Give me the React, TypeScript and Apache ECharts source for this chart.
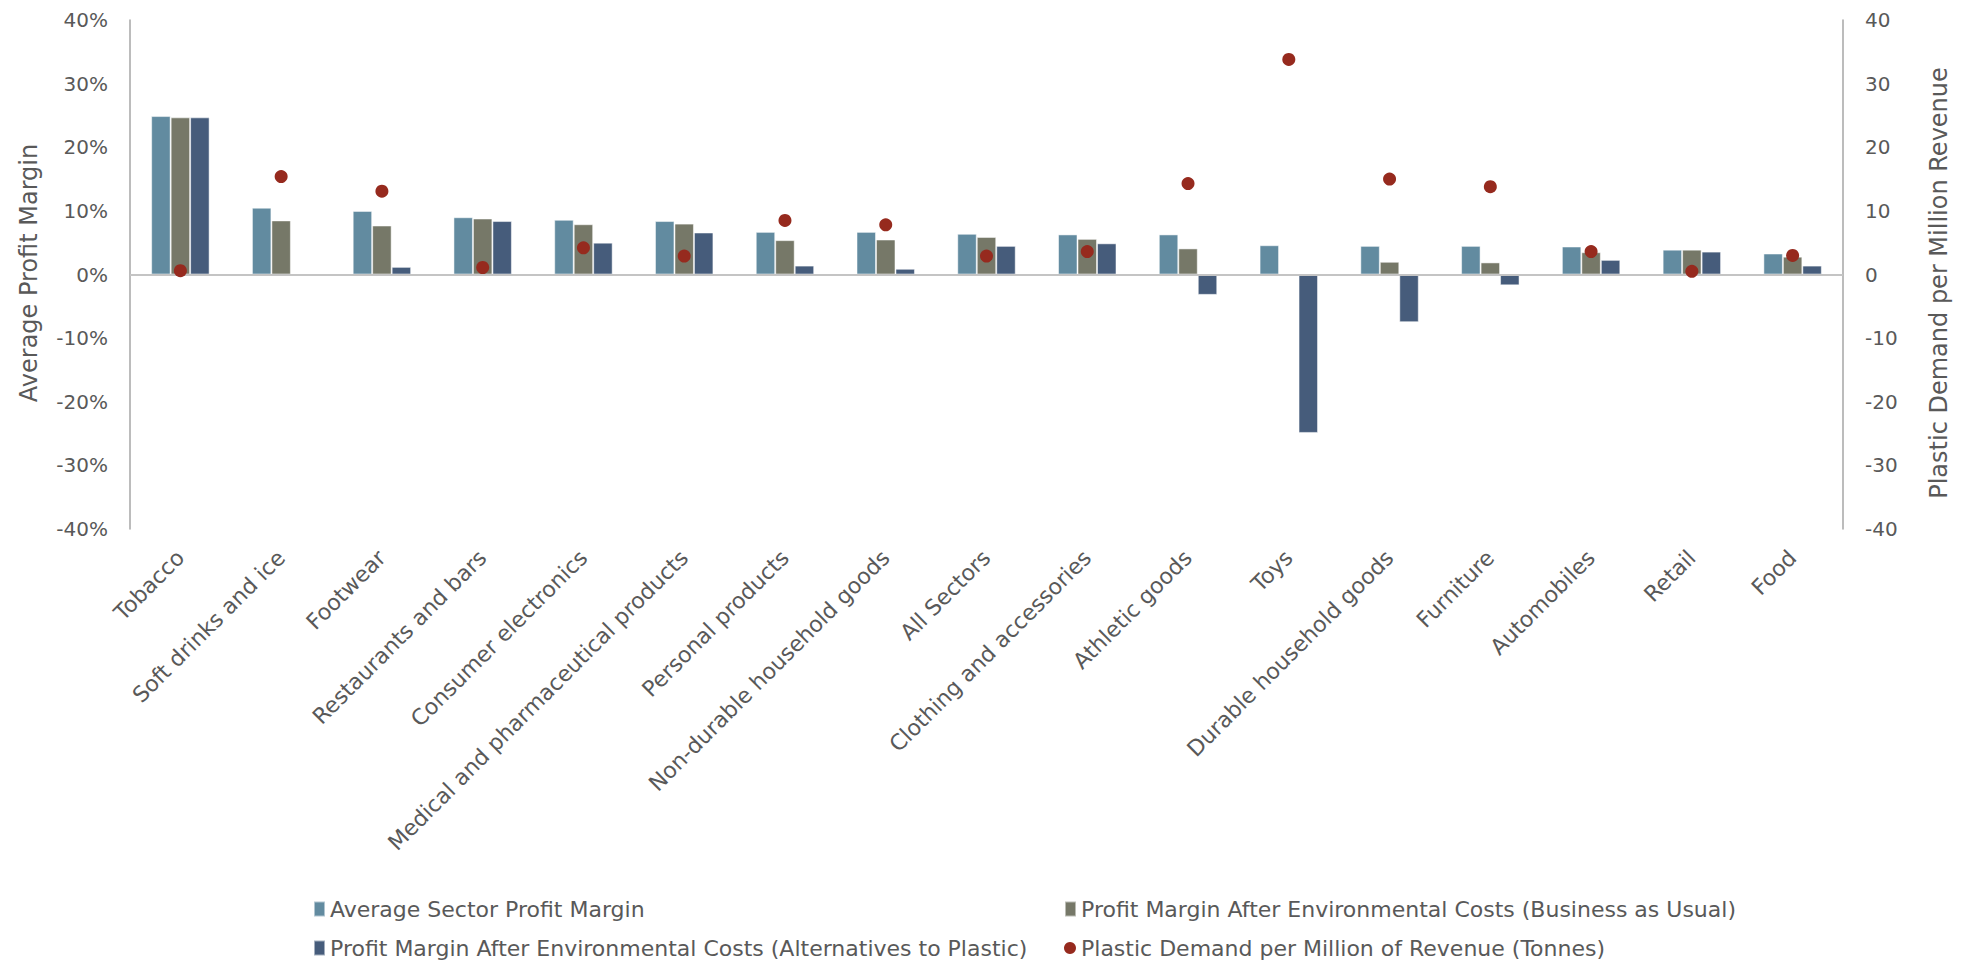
import React, { useEffect, useRef } from "react";
import * as echarts from "echarts";

const categories = [
  "Tobacco",
  "Soft drinks and ice",
  "Footwear",
  "Restaurants and bars",
  "Consumer electronics",
  "Medical and pharmaceutical products",
  "Personal products",
  "Non-durable household goods",
  "All Sectors",
  "Clothing and accessories",
  "Athletic goods",
  "Toys",
  "Durable household goods",
  "Furniture",
  "Automobiles",
  "Retail",
  "Food",
];

const avgMargin = [24.9, 10.5, 10.0, 9.0, 8.6, 8.4, 6.7, 6.7, 6.4, 6.3, 6.3, 4.6, 4.5, 4.5, 4.4, 3.9, 3.3];
const bauMargin = [24.7, 8.5, 7.7, 8.8, 7.9, 8.0, 5.4, 5.5, 5.9, 5.6, 4.1, 0, 2.0, 1.9, 3.5, 3.9, 2.8];
const altMargin = [24.7, -0.15, 1.2, 8.4, 5.0, 6.6, 1.4, 0.9, 4.5, 4.9, -3.2, -24.9, -7.5, -1.7, 2.3, 3.6, 1.4];
const plasticDemand = [0.6, 15.4, 13.1, 1.1, 4.2, 2.9, 8.5, 7.8, 2.9, 3.6, 14.3, 33.8, 15.0, 13.8, 3.6, 0.5, 3.0];

const seriesNames = [
  "Average Sector Profit Margin",
  "Profit Margin After Environmental Costs (Business as Usual)",
  "Profit Margin After Environmental Costs (Alternatives to Plastic)",
  "Plastic Demand per Million of Revenue (Tonnes)",
];

const leftAxisName = "Average Profit Margin";
const rightAxisName = "Plastic Demand per Million Revenue";

const colors = ["#628BA0", "#767868", "#465C7B", "#962A1E"];
const textColor = "#595959";
const font = "DejaVu Sans, sans-serif";

export default function App() {
  const ref = useRef<HTMLDivElement>(null);

  useEffect(() => {
    if (!ref.current) return;
    const chart = echarts.init(ref.current, undefined, { renderer: "svg" });

    const legendPos = [
      { left: 313, top: 898 },
      { left: 1064, top: 898 },
      { left: 313, top: 937 },
      { left: 1064, top: 937 },
    ];

    const legends = seriesNames.map((n, i) => ({
      show: true,
      data: [n],
      left: legendPos[i].left,
      top: legendPos[i].top,
      orient: "horizontal",
      itemWidth: i === 3 ? 12 : 11,
      itemHeight: i === 3 ? 12 : 15,
      icon: i === 3 ? "circle" : "rect",
      selectedMode: false,
      textStyle: { color: textColor, fontSize: 22, fontFamily: font },
      padding: 0,
    }));

    const barBase = {
      type: "bar",
      barGap: "0%",
      barCategoryGap: "42%",
      xAxisIndex: 0,
      yAxisIndex: 0,
    };

    chart.setOption({
      animation: false,
      backgroundColor: "#ffffff",
      color: colors,
      textStyle: { fontFamily: font },
      grid: { left: 130, right: 130, top: 20, bottom: 434, containLabel: false },
      legend: legends,
      xAxis: [
        {
          type: "category",
          data: categories,
          axisLine: { show: false },
          axisTick: { show: false },
          axisLabel: {
            rotate: 45,
            color: textColor,
            fontSize: 22,
            fontFamily: font,
            margin: 25,
            interval: 0,
          },
        },
      ],
      yAxis: [
        {
          type: "value",
          min: -40,
          max: 40,
          interval: 10,
          position: "left",
          axisLine: { show: true, lineStyle: { color: "#a6a6a6", width: 1.5 } },
          axisTick: { show: false },
          splitLine: { show: false },
          axisLabel: {
            formatter: "{value}%",
            color: textColor,
            fontSize: 20,
            fontFamily: font,
            margin: 22,
          },
        },
        {
          type: "value",
          min: -40,
          max: 40,
          interval: 10,
          position: "right",
          axisLine: { show: true, lineStyle: { color: "#a6a6a6", width: 1.5 } },
          axisTick: { show: false },
          splitLine: { show: false },
          axisLabel: {
            color: textColor,
            fontSize: 20,
            fontFamily: font,
            margin: 22,
          },
        },
      ],
      graphic: [
        {
          type: "text",
          x: 29,
          y: 273,
          rotation: Math.PI / 2,
          style: {
            text: leftAxisName,
            fill: textColor,
            fontSize: 24,
            fontFamily: font,
            align: "center",
            verticalAlign: "middle",
          },
        },
        {
          type: "text",
          x: 1939,
          y: 283,
          rotation: Math.PI / 2,
          style: {
            text: rightAxisName,
            fill: textColor,
            fontSize: 24,
            fontFamily: font,
            align: "center",
            verticalAlign: "middle",
          },
        },
      ],
      series: [
        {
          ...barBase,
          name: seriesNames[0],
          data: avgMargin,
          itemStyle: { color: colors[0], borderColor: "rgba(255,255,255,0.5)", borderWidth: 1 },
          markLine: {
            silent: true,
            symbol: ["none", "none"],
            label: { show: false },
            lineStyle: { color: "#c4c4c4", width: 2, type: "solid" },
            data: [{ yAxis: 0 }],
          },
        },
        {
          ...barBase,
          name: seriesNames[1],
          data: bauMargin,
          itemStyle: { color: colors[1], borderColor: "rgba(255,255,255,0.5)", borderWidth: 1 },
        },
        {
          ...barBase,
          name: seriesNames[2],
          data: altMargin,
          itemStyle: { color: colors[2], borderColor: "rgba(255,255,255,0.5)", borderWidth: 1 },
        },
        {
          type: "scatter",
          name: seriesNames[3],
          data: plasticDemand,
          xAxisIndex: 0,
          yAxisIndex: 1,
          symbol: "circle",
          symbolSize: 13,
          itemStyle: { color: colors[3], opacity: 1 },
          z: 5,
        },
      ],
    });

    return () => chart.dispose();
  }, []);

  return (
    <div
      ref={ref}
      style={{ position: "fixed", left: 0, top: 0, width: 1973, height: 963 }}
    />
  );
}
